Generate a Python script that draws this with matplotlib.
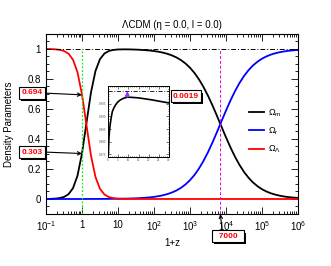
import numpy as np
import matplotlib
matplotlib.use("Agg")
import matplotlib.pyplot as plt
from matplotlib import patheffects
from matplotlib.ticker import FixedLocator, MultipleLocator, FuncFormatter, LogLocator, NullFormatter

plt.rcParams['font.family'] = ['Liberation Sans', 'DejaVu Sans']
plt.rcParams['mathtext.fontset'] = 'custom'
plt.rcParams['mathtext.rm'] = 'Liberation Sans'
plt.rcParams['mathtext.it'] = 'Liberation Sans:italic'

# ---------------- data ----------------
onepz = [0.1, 0.1334, 0.1778, 0.2371, 0.3162, 0.4217, 0.5623, 0.7499, 1.0,
         1.334, 1.778, 2.371, 3.162, 4.217, 5.623, 7.499, 10, 13.34, 17.78, 23.71,
         31.62, 42.17, 56.23, 74.99, 100, 133.4, 177.8, 237.1, 316.2, 421.7, 562.3,
         749.9, 1000, 1334, 1778, 2371, 3162, 4217, 5623, 7499, 10000, 13340,
         17780, 23710, 31620, 42170, 56230, 74990, 1e5, 1.334e5, 1.778e5, 2.371e5,
         3.162e5, 4.217e5, 5.623e5, 7.499e5, 1e6]
omega_m = [0.0004, 0.0010, 0.0025, 0.0058, 0.0136, 0.0317, 0.0721, 0.1555, 0.3039,
           0.5086, 0.7105, 0.8532, 0.9321, 0.9698, 0.9865, 0.9935, 0.9963, 0.9971, 0.9971, 0.9965,
           0.9954, 0.9940, 0.9920, 0.9894, 0.9859, 0.9813, 0.9752, 0.9672, 0.9568, 0.9432, 0.9257,
           0.9032, 0.8750, 0.8400, 0.7974, 0.7470, 0.6888, 0.6241, 0.5545, 0.4828, 0.4118, 0.3442,
           0.2825, 0.2279, 0.1812, 0.1424, 0.1107, 0.0854, 0.0654, 0.0499, 0.0379, 0.0287,
           0.0217, 0.0163, 0.0123, 0.0093, 0.0070]
omega_r = [0.0, 0.0, 0.0, 0.0, 0.0, 0.0, 0.0, 0.0, 0.0,
           0.0001, 0.0002, 0.0003, 0.0004, 0.0006, 0.0008, 0.0011, 0.0014, 0.0019, 0.0025, 0.0034,
           0.0045, 0.0060, 0.0080, 0.0106, 0.0141, 0.0187, 0.0248, 0.0328, 0.0432, 0.0568, 0.0744,
           0.0968, 0.1250, 0.1600, 0.2026, 0.2530, 0.3112, 0.3759, 0.4455, 0.5172, 0.5882, 0.6558,
           0.7175, 0.7721, 0.8188, 0.8576, 0.8893, 0.9146, 0.9346, 0.9501, 0.9621, 0.9713,
           0.9783, 0.9837, 0.9877, 0.9908, 0.9930]
omega_l = [0.9996, 0.9990, 0.9975, 0.9942, 0.9864, 0.9683, 0.9279, 0.8445, 0.6961,
           0.4913, 0.2894, 0.1465, 0.0675, 0.0296, 0.0127, 0.0054, 0.0023, 0.0010, 0.0004, 0.0002,
           0.0001, 0.0, 0.0, 0.0, 0.0, 0.0, 0.0, 0.0, 0.0, 0.0, 0.0,
           0.0, 0.0, 0.0, 0.0, 0.0, 0.0, 0.0, 0.0, 0.0, 0.0, 0.0,
           0.0, 0.0, 0.0, 0.0, 0.0, 0.0, 0.0, 0.0, 0.0, 0.0,
           0.0, 0.0, 0.0, 0.0, 0.0]

# inset: zoom on the matter-dominated plateau
inset_z = [0.16, 0.3, 0.5, 0.82, 1.2, 1.6, 2.13, 2.8, 3.77, 4.8, 6.23, 7.8, 9.51, 12.0,
           15.2, 21.8, 30.0]
inset_om = [0.975, 0.979, 0.982, 0.9851, 0.9875, 0.9897, 0.9919, 0.9932, 0.9946, 0.9957,
            0.9966, 0.9972, 0.9976, 0.9975, 0.9973, 0.9965, 0.9953]
inset_peak_z = 9.5

z_today = 1.0
z_eq = 7000
om_today = 0.303
ol_today = 0.694
label_gap = '0.0019'

x_ticks = [0.1, 1, 10, 100, 1e3, 1e4, 1e5, 1e6]

# ---------------- figure ----------------
fig = plt.figure(figsize=(3.31, 2.66), dpi=100)
ax = fig.add_axes([0.139, 0.1955, 0.761, 0.677])

ax.plot(onepz, omega_m, color='black', lw=1.3, label=r'$\Omega_\mathrm{m}$')
ax.plot(onepz, omega_r, color='#0000ff', lw=1.3, label=r'$\Omega_\mathrm{r}$')
ax.plot(onepz, omega_l, color='#ff0000', lw=1.3, label=r'$\Omega_\Lambda$')

ax.axhline(1.0, color='black', lw=0.7, ls=(0, (5, 2, 1, 2)))
ax.axvline(z_today, ymin=0, ymax=1.1 / 1.2, color='#11ee11', lw=0.9, ls=(0, (1.5, 1.5)))
ax.axvline(z_eq, ymin=0, ymax=1.1 / 1.2, color='#ee00ee', lw=0.7, ls=(0, (3, 2)))

ax.set_xscale('log')
ax.set_xlim(0.1, 1e6)
ax.set_ylim(-0.1, 1.1)
ax.xaxis.set_major_locator(FixedLocator(x_ticks))
ax.xaxis.set_minor_locator(LogLocator(base=10, subs=np.arange(2, 10), numticks=20))
ax.xaxis.set_minor_formatter(NullFormatter())


def fmt_x(v, pos):
    e = int(round(np.log10(v)))
    if e == 0:
        return '1'
    if e == 1:
        return '10'
    return r'$10^{%d}$' % e


ax.xaxis.set_major_formatter(FuncFormatter(fmt_x))
ax.yaxis.set_major_locator(FixedLocator([0, 0.2, 0.4, 0.6, 0.8, 1.0]))
ax.yaxis.set_major_formatter(FuncFormatter(lambda v, p: '0' if v == 0 else ('1' if v == 1 else '%.1f' % v)))
ax.yaxis.set_minor_locator(MultipleLocator(0.05))
ax.tick_params(which='both', direction='in', top=True, right=True, labelsize=7, width=0.6)
ax.tick_params(which='major', length=5)
ax.tick_params(which='minor', length=2.5)
ax.tick_params(axis='x', pad=4)
for s in ax.spines.values():
    s.set_linewidth(0.8)

ax.set_xlabel('1+z', fontsize=7, labelpad=3)
ax.set_ylabel('Density Parameters', fontsize=7, labelpad=10)
ax.set_title('ΛCDM (η = 0.0, l = 0.0)', fontsize=7, pad=4)

ax.legend(loc='center left', bbox_to_anchor=(0.775, 0.46), frameon=False,
          fontsize=6.5, handlelength=1.6, labelspacing=0.75, handletextpad=0.5)

# ---------------- annotation boxes ----------------
shadow = [patheffects.withSimplePatchShadow(offset=(1.5, -1.5), shadow_rgbFace='black', alpha=1.0)]
box = dict(boxstyle='square,pad=0.25', fc='white', ec='black', lw=0.8)
arrow = dict(arrowstyle='->', color='black', lw=0.8, shrinkA=0, shrinkB=0)

t1 = ax.annotate(str(ol_today), xy=(z_today, ol_today), xytext=(32, 173),
                 textcoords='figure pixels', ha='center', va='center',
                 color='red', fontsize=6, fontweight='bold', bbox=box,
                 arrowprops=dict(arrow, relpos=(1.0, 0.5)), annotation_clip=False)
t2 = ax.annotate(str(om_today), xy=(z_today, om_today), xytext=(32, 114),
                 textcoords='figure pixels', ha='center', va='center',
                 color='red', fontsize=6, fontweight='bold', bbox=box,
                 arrowprops=dict(arrow, relpos=(1.0, 0.5)), annotation_clip=False)
t3 = ax.annotate('  ' + str(z_eq) + '  ', xy=(z_eq, -0.1), xytext=(228, 30),
                 textcoords='figure pixels', ha='center', va='center',
                 color='red', fontsize=6, fontweight='bold', bbox=box,
                 arrowprops=dict(arrow, relpos=(0.3, 1.0)), annotation_clip=False)
t4 = fig.text(186 / 331, 170 / 266, label_gap, ha='center', va='center',
              color='red', fontsize=6, fontweight='bold', bbox=box)
for t in (t1, t2, t3, t4):
    t.get_bbox_patch().set_path_effects(shadow)

# ---------------- inset ----------------
axin = fig.add_axes([108 / 331, 109 / 266, 61 / 331, 71 / 266])
axin.plot(inset_z, inset_om, color='black', lw=1.2)
axin.axhline(1.0, color='black', lw=0.6, ls=(0, (5, 2, 1, 2)))
axin.annotate('', xy=(inset_peak_z, 1.0), xytext=(inset_peak_z, 0.9978),
              arrowprops=dict(arrowstyle='-|>', color='#9b30ff', lw=1.2, mutation_scale=6,
                              shrinkA=0, shrinkB=0))
axin.set_xlim(0, 30)
axin.set_ylim(0.974, 1.002)
axin.xaxis.set_major_locator(MultipleLocator(5))
axin.xaxis.set_minor_locator(MultipleLocator(1))
axin.yaxis.set_major_locator(FixedLocator([0.975, 0.98, 0.985, 0.99, 0.995]))
axin.yaxis.set_minor_locator(MultipleLocator(0.001))
axin.tick_params(which='both', direction='in', top=True, right=True, labelsize=2.2,
                 width=0.4, pad=1, labelcolor='#555555')
axin.tick_params(which='major', length=2)
axin.tick_params(which='minor', length=1)
for s in axin.spines.values():
    s.set_linewidth(0.7)

fig.savefig('out.png', dpi=100)
